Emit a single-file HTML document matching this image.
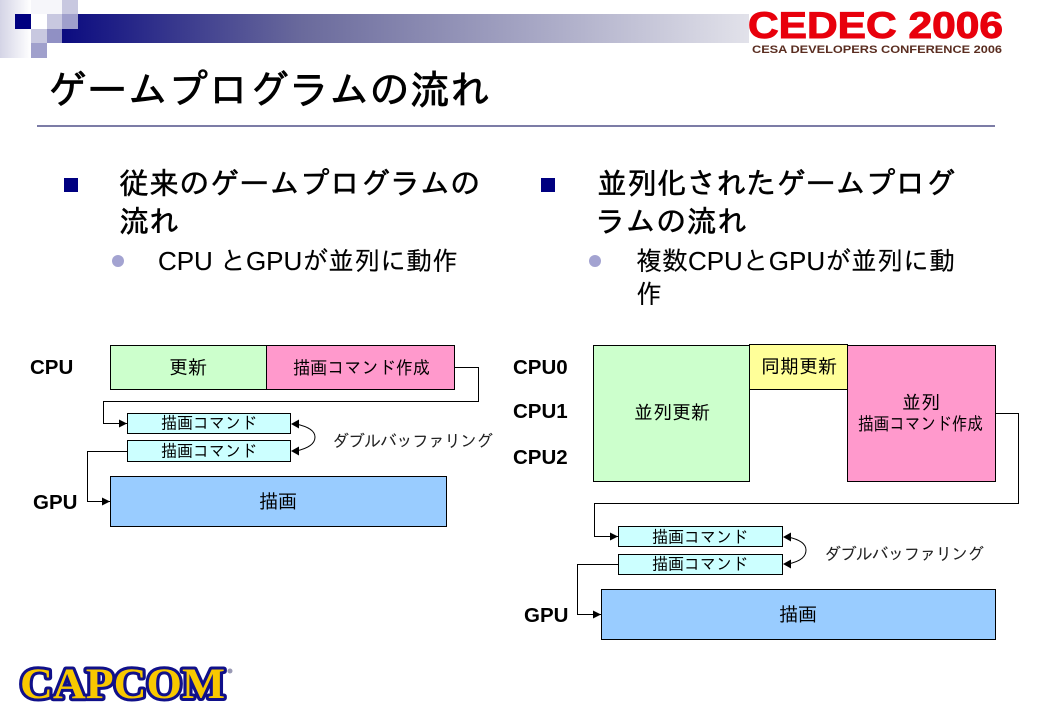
<!DOCTYPE html>
<html lang="ja">
<head>
<meta charset="utf-8">
<style>
html,body{margin:0;padding:0;background:#fff;width:1040px;height:720px;overflow:hidden}
svg{display:block}
text{font-family:"Liberation Sans","IPAGothic","Noto Sans CJK JP",sans-serif;fill:#000}
.jp{font-family:"IPAGothic","Noto Sans CJK JP",sans-serif}
.box{stroke:#000;stroke-width:1}
.ln{fill:none;stroke:#000;stroke-width:1}
.lab{font-size:19px;text-anchor:middle}
.cmd{font-size:17px;text-anchor:middle}
.cpu{font-family:"Liberation Sans",sans-serif;font-weight:bold;font-size:20.5px}
</style>
</head>
<body>
<svg width="1040" height="720" viewBox="0 0 1040 720" xmlns="http://www.w3.org/2000/svg">
<defs>
<linearGradient id="bar" gradientUnits="userSpaceOnUse" x1="62" x2="749" y1="0" y2="0">
<stop offset="0" stop-color="#0b0b80"/>
<stop offset="0.35" stop-color="#6a6a9c"/>
<stop offset="0.7" stop-color="#a9a9c6"/>
<stop offset="1" stop-color="#e2e2ea"/>
</linearGradient>
<linearGradient id="lg" x1="0" x2="1" y1="0" y2="0">
<stop offset="0" stop-color="#d4d4e6"/>
<stop offset="1" stop-color="#fff"/>
</linearGradient>
<marker id="a" markerWidth="9" markerHeight="9" refX="8" refY="4.5" orient="auto" markerUnits="userSpaceOnUse">
<path d="M0,0.5 L8,4.5 L0,8.5 Z" fill="#000"/>
</marker>
</defs>

<!-- header band -->
<rect x="78" y="14" width="671" height="15" fill="url(#bar)"/>
<rect x="62" y="29" width="687" height="14" fill="url(#bar)"/>
<rect x="0" y="0" width="31" height="58" fill="url(#lg)"/>
<rect x="31" y="0" width="31" height="14" fill="#f6f6fa"/>
<rect x="15" y="14" width="16" height="15" fill="#000080"/>
<rect x="47" y="14" width="15" height="15" fill="#c8c8e0"/>
<rect x="62" y="0" width="16" height="14" fill="#c8c8e0"/>
<rect x="62" y="14" width="16" height="15" fill="#a0a0cc"/>
<rect x="31" y="29" width="16" height="14" fill="#c8c8e0"/>
<rect x="47" y="29" width="15" height="14" fill="#9090c4"/>
<rect x="31" y="43" width="16" height="15" fill="#a0a0cc"/>

<!-- CEDEC logo -->
<text x="748" y="38" font-size="37" font-weight="bold" textLength="255" lengthAdjust="spacingAndGlyphs" style="fill:#e8000c;stroke:#e8000c;stroke-width:1;font-family:'Liberation Sans',sans-serif">CEDEC 2006</text>
<text x="752" y="53" font-size="11" font-weight="bold" textLength="250" lengthAdjust="spacingAndGlyphs" style="fill:#5a2d20;font-family:'Liberation Sans',sans-serif">CESA DEVELOPERS CONFERENCE 2006</text>

<!-- title -->
<text class="jp" x="47" y="104" font-size="40" textLength="443" lengthAdjust="spacing" style="stroke:#000;stroke-width:.7">ゲームプログラムの流れ</text>
<rect x="37" y="125" width="958" height="2" fill="#7c7ca6"/>

<!-- left bullets -->
<rect x="64" y="178" width="14" height="14" fill="#000080"/>
<text class="jp" x="119" y="194" font-size="30" textLength="361" style="stroke:#000;stroke-width:.5">従来のゲームプログラムの</text>
<text class="jp" x="119" y="232" font-size="30" style="stroke:#000;stroke-width:.5">流れ</text>
<circle cx="118" cy="261" r="6" fill="#a3a3d1"/>
<text x="158" y="270" font-size="26" textLength="300" style="stroke:#000;stroke-width:.1">CPU とGPUが並列に動作</text>

<!-- right bullets -->
<rect x="541" y="178" width="14" height="14" fill="#000080"/>
<text class="jp" x="597" y="194" font-size="30" textLength="358" style="stroke:#000;stroke-width:.5">並列化されたゲームプログ</text>
<text class="jp" x="595" y="232" font-size="30" textLength="152" style="stroke:#000;stroke-width:.5">ラムの流れ</text>
<circle cx="595" cy="261" r="6" fill="#a3a3d1"/>
<text x="636" y="270" font-size="26" textLength="319" style="stroke:#000;stroke-width:.1">複数CPUとGPUが並列に動</text>
<text x="636" y="303" font-size="26" style="stroke:#000;stroke-width:.1">作</text>

<!-- left diagram -->
<text class="cpu" x="30" y="374">CPU</text>
<text class="cpu" x="33" y="509">GPU</text>
<rect class="box" x="110.5" y="345.5" width="156" height="44" fill="#ccffcc"/>
<rect class="box" x="266.5" y="345.5" width="188" height="44" fill="#ff99cc"/>
<text class="lab" x="188" y="374">更新</text>
<text x="293" y="374" font-size="18" textLength="137" lengthAdjust="spacingAndGlyphs">描画コマンド作成</text>
<rect class="box" x="127.5" y="413.5" width="163" height="20" fill="#ccffff"/>
<rect class="box" x="127.5" y="440.5" width="163" height="21" fill="#ccffff"/>
<text x="161" y="429" font-size="17" textLength="96" lengthAdjust="spacingAndGlyphs">描画コマンド</text>
<text x="161" y="457" font-size="17" textLength="96" lengthAdjust="spacingAndGlyphs">描画コマンド</text>
<rect class="box" x="110.5" y="476.5" width="336" height="50" fill="#99ccff"/>
<text class="lab" x="278" y="508">描画</text>
<path class="ln" d="M454.5,367.5 H478.5 V401.5 H103.5 V423.5 H127" marker-end="url(#a)"/>
<path class="ln" d="M127.5,451.5 H87.5 V501.5 H110" marker-end="url(#a)"/>
<path class="ln" d="M296,424 C310,427 315,432 315,437 C315,443 310,448 296,451"/>
<path d="M291,424 L299,419.5 L299,428.5 Z M291,451 L299,446.5 L299,455.5 Z" fill="#000"/>
<text x="332" y="447" font-size="17" textLength="161" style="fill:#222">ダブルバッファリング</text>

<!-- right diagram -->
<text class="cpu" x="513" y="374">CPU0</text>
<text class="cpu" x="513" y="418">CPU1</text>
<text class="cpu" x="513" y="464">CPU2</text>
<text class="cpu" x="524" y="622">GPU</text>
<rect class="box" x="593.5" y="345.5" width="156" height="136" fill="#ccffcc"/>
<rect class="box" x="749.5" y="344.5" width="98" height="45" fill="#ffff99"/>
<rect class="box" x="847.5" y="345.5" width="148" height="136" fill="#ff99cc"/>
<text class="lab" x="672" y="419">並列更新</text>
<text class="lab" x="799" y="373">同期更新</text>
<text class="lab" x="921" y="409">並列</text>
<text x="858" y="430" font-size="18" textLength="125" lengthAdjust="spacingAndGlyphs">描画コマンド作成</text>
<rect class="box" x="618.5" y="526.5" width="164" height="20" fill="#ccffff"/>
<rect class="box" x="618.5" y="554.5" width="164" height="20" fill="#ccffff"/>
<text x="652" y="543" font-size="17" textLength="96" lengthAdjust="spacingAndGlyphs">描画コマンド</text>
<text x="652" y="570" font-size="17" textLength="96" lengthAdjust="spacingAndGlyphs">描画コマンド</text>
<rect class="box" x="601.5" y="589.5" width="394" height="50" fill="#99ccff"/>
<text class="lab" x="798" y="621">描画</text>
<path class="ln" d="M995.5,413.5 H1018.5 V503.5 H594.5 V536.5 H618" marker-end="url(#a)"/>
<path class="ln" d="M618.5,564.5 H577.5 V614.5 H601" marker-end="url(#a)"/>
<path class="ln" d="M788,537 C802,540 806,545 806,550 C806,556 802,561 788,564"/>
<path d="M783,537 L791,532.5 L791,541.5 Z M783,564 L791,559.5 L791,568.5 Z" fill="#000"/>
<text x="824" y="560" font-size="17" textLength="160" style="fill:#222">ダブルバッファリング</text>

<!-- CAPCOM logo -->
<text x="20" y="698" font-size="43" font-weight="bold" textLength="205" lengthAdjust="spacingAndGlyphs" style="font-family:'Liberation Serif',serif;fill:#f8c800;stroke:#10108a;stroke-width:6;paint-order:stroke;stroke-linejoin:round">CAPCOM</text>
<circle cx="230" cy="671" r="2.5" fill="#9a9ab5"/>
</svg>
</body>
</html>
